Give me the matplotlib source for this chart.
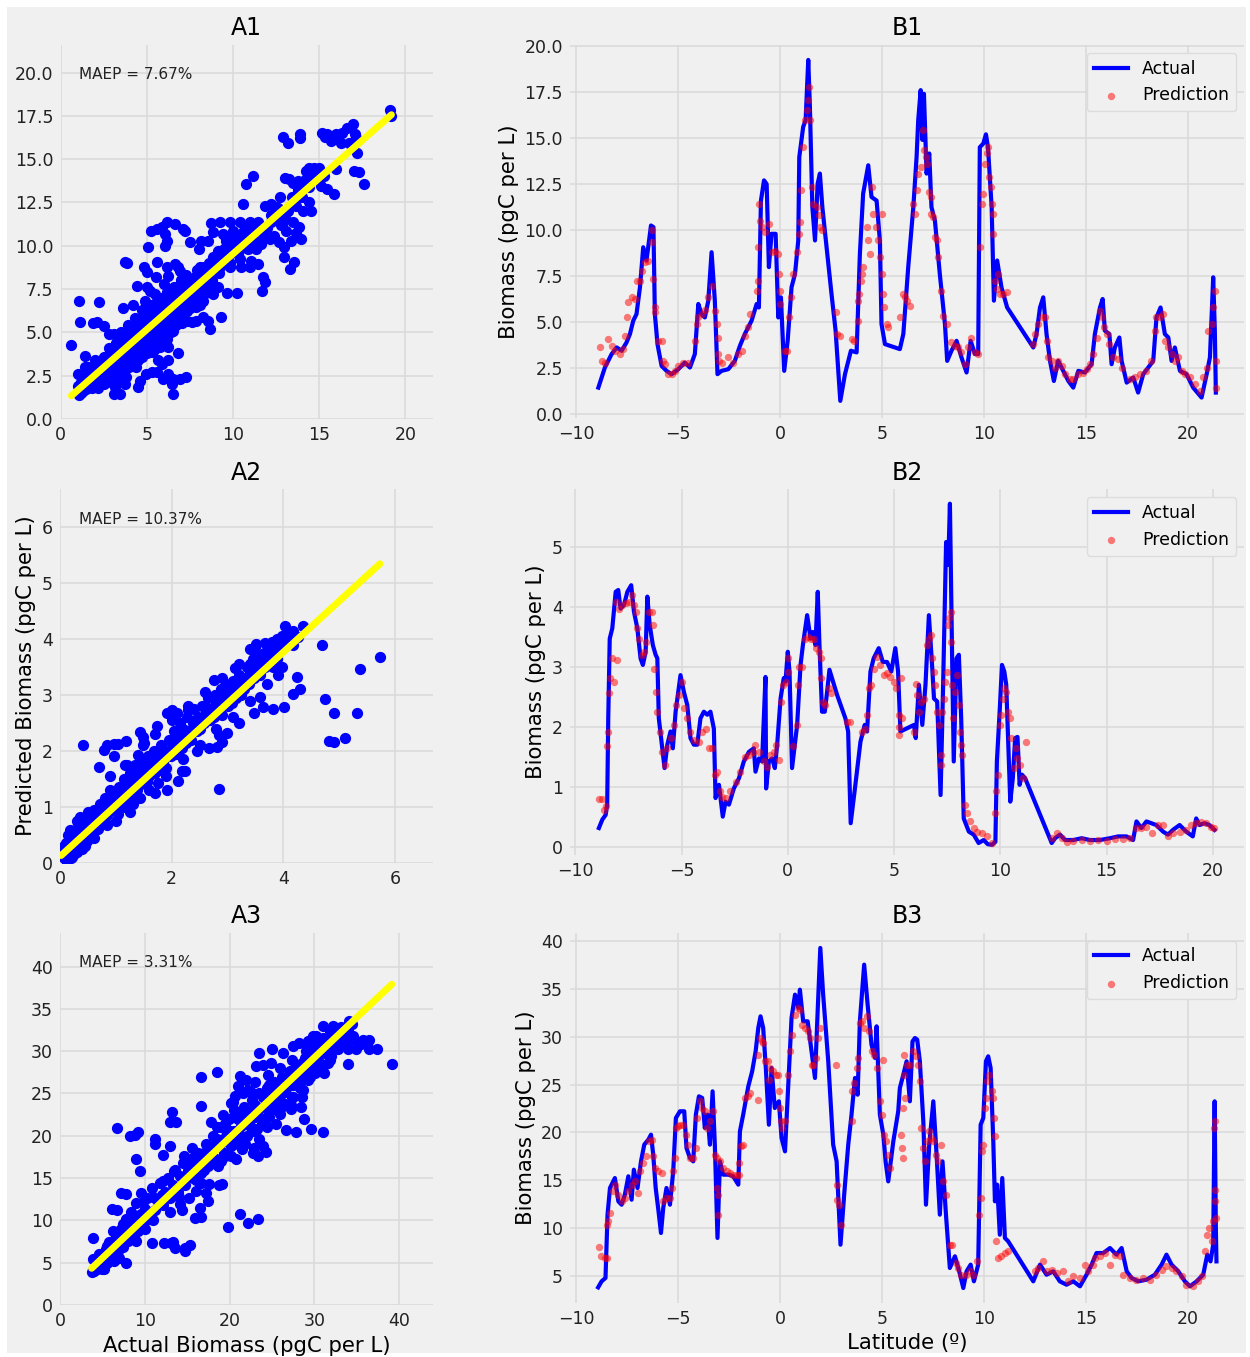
import numpy as np
import matplotlib
matplotlib.use("Agg")
import matplotlib.pyplot as plt
from matplotlib.patches import Rectangle

# ---------------- data: A panels (actual vs predicted) ----------------
a1_actual = [19.13, 19.19, 16.96, 16.63, 16.35, 15.96, 15.48, 15.19, 15.35, 15.67,
             16.25, 16.73, 17.08, 17.12, 12.88, 13.17, 13.9, 13.9, 17.21, 17.02,
             17.31, 17.6, 15.87, 15.96, 14.42, 14.71, 15.0, 14.23, 14.52, 14.81,
             15.29, 15.0, 15.1, 15.48, 10.77, 11.19, 13.0, 13.27, 13.46, 13.75,
             14.04, 12.73, 14.33, 10.58, 11.83, 12.21, 12.5, 12.88, 13.27, 13.65,
             14.04, 14.52, 14.42, 11.83, 12.21, 12.88, 13.08, 13.5, 13.85, 13.65,
             13.94, 13.37, 12.98, 12.69, 12.4, 12.12, 11.63, 12.98, 13.56, 13.33,
             11.73, 11.83, 11.67, 8.71, 9.23, 9.81, 10.38, 10.96, 11.44, 8.85,
             9.42, 10.0, 10.58, 11.15, 8.17, 8.56, 9.13, 9.62, 10.0, 10.38,
             10.87, 11.35, 8.04, 8.85, 9.62, 10.38, 11.06, 11.44, 8.08, 8.65,
             9.23, 9.81, 10.48, 10.96, 9.65, 10.23, 9.33, 5.25, 5.58, 5.9,
             6.15, 6.63, 6.06, 6.15, 6.06, 5.1, 7.1, 7.23, 7.5, 3.75,
             3.85, 5.58, 4.87, 5.0, 5.54, 6.15, 6.25, 6.63, 6.83, 6.92,
             4.42, 5.0, 1.06, 2.21, 1.15, 1.88, 2.12, 2.5, 2.79, 0.63,
             1.44, 1.58, 2.02, 3.17, 3.08, 3.46, 3.75, 4.52, 4.62, 4.94,
             5.29, 5.58, 5.96, 6.25, 6.44, 6.54, 6.54, 6.92, 7.25, 5.67,
             5.87, 6.25, 5.77, 6.25, 6.83, 5.29, 8.65, 8.56, 8.27, 7.88,
             7.6, 7.31, 7.02, 6.73, 6.54, 6.15, 8.85, 9.13, 8.65, 8.27,
             7.88, 7.5, 7.31, 8.08, 8.46, 7.5, 7.21,
             1.0, 1.2, 1.3, 1.5, 1.6, 1.7, 1.8, 1.9, 2.0, 2.1,
             2.2, 2.3, 2.4, 2.5, 2.6, 2.7, 2.8, 2.9, 3.0, 3.1,
             3.2, 3.3, 3.4, 3.5, 3.6, 3.7, 3.8, 3.9, 4.0, 4.1,
             4.2, 4.3, 4.4, 4.5, 4.6, 4.7, 4.8, 4.9, 5.0, 5.1,
             5.2, 5.3, 5.4, 5.5, 5.6, 5.7, 5.8, 5.9, 6.0, 6.1,
             6.2, 6.3, 6.4, 6.5, 6.6, 6.7, 6.8, 6.9, 7.0, 7.2,
             7.4, 7.6, 7.8, 8.0, 8.2, 8.4, 8.6, 8.8, 9.0, 9.2,
             9.5, 9.8, 10.0, 10.3, 10.6, 10.9, 11.2, 11.5, 12.0, 12.4,
             12.8, 13.2, 13.6, 14.0, 14.4, 14.8, 15.2, 1.1, 1.4, 1.9,
             2.2, 2.6, 2.9, 3.1, 3.3, 3.5, 3.6, 3.8, 4.0, 4.2,
             4.4, 4.6, 4.8, 5.0, 5.2, 5.4, 5.6, 5.8, 6.0, 6.2,
             6.4, 6.6, 6.8, 7.0, 7.2, 7.4, 7.6, 7.8, 8.0, 8.3,
             8.5, 8.7, 9.0, 9.3, 9.6, 9.9, 10.2, 10.5, 10.8, 11.1,
             11.4, 11.8, 12.2, 12.6, 13.0, 13.4, 13.8, 14.2, 14.6, 1.0,
             1.5, 2.0, 2.4, 2.7, 3.0, 3.2, 3.4, 3.7, 3.9, 4.1,
             4.3, 4.5, 4.7, 4.9, 5.1, 5.3, 5.5, 5.7, 5.9, 6.1,
             6.3, 6.5, 6.7, 6.9, 7.1, 7.3, 7.5, 7.7, 7.9, 8.1, 8.3,
             1.2, 1.4, 1.6, 1.8, 2.0, 2.2, 2.4, 2.5, 2.6, 2.8,
             2.8, 3.0, 3.0, 3.2, 3.3, 3.4, 3.5, 3.6, 3.7, 3.8,
             3.9, 4.0, 4.1, 4.2, 4.3, 4.4, 4.5, 4.6, 4.7, 4.8,
             4.9, 5.0, 5.1, 5.2, 5.3, 5.4, 5.5, 5.6, 5.7, 5.8,
             5.9, 6.0, 6.1, 6.2, 6.3, 6.4, 6.5, 6.6, 6.7, 6.8,
             6.9, 7.0, 7.1, 7.2, 7.3, 7.5, 7.7, 7.9, 8.1, 8.4]
a1_pred = [17.83, 17.5, 17.02, 16.83, 16.54, 16.44, 16.44, 16.5, 16.31, 16.06,
           15.96, 15.96, 16.44, 16.25, 16.29, 15.96, 16.44, 16.25, 15.38, 14.33,
           14.29, 13.56, 12.98, 14.42, 14.52, 14.52, 14.52, 14.33, 14.13, 14.23,
           14.04, 13.75, 13.46, 13.27, 13.56, 14.04, 13.94, 13.85, 13.65, 13.75,
           13.65, 12.83, 13.46, 12.44, 12.27, 12.4, 12.21, 12.02, 12.21, 12.31,
           12.02, 11.98, 12.5, 11.06, 11.35, 11.4, 10.87, 11.38, 11.1, 10.73,
           10.38, 10.29, 9.9, 10.19, 10.58, 10.38, 10.1, 9.37, 9.04, 8.65,
           8.17, 7.88, 7.4, 11.31, 11.35, 11.35, 11.35, 11.4, 11.35, 10.77,
           10.67, 10.87, 10.77, 10.67, 10.25, 10.25, 9.71, 10.29, 10.1, 9.81,
           10.0, 9.81, 9.81, 9.33, 9.33, 9.23, 9.13, 8.94, 8.75, 8.85,
           8.75, 8.75, 8.75, 8.75, 7.27, 7.27, 5.87, 10.87, 10.96, 11.1,
           11.38, 11.25, 10.67, 10.29, 10.0, 9.9, 10.94, 10.87, 10.19, 9.04,
           8.98, 9.04, 8.75, 8.46, 8.21, 8.75, 8.23, 8.94, 8.75, 8.56,
           7.69, 7.6, 6.83, 6.77, 5.58, 5.52, 5.58, 5.38, 4.9, 4.27,
           3.65, 2.98, 3.08, 1.83, 1.44, 1.44, 2.02, 1.83, 2.21, 2.6,
           2.69, 2.69, 2.31, 2.6, 2.02, 1.44, 2.31, 2.31, 2.4, 3.37,
           3.17, 3.37, 4.13, 4.13, 3.79, 3.85, 5.19, 5.67, 5.87, 5.67,
           5.58, 5.67, 5.52, 5.67, 5.1, 5.19, 7.21, 7.6, 7.5, 6.83,
           6.44, 6.83, 6.25, 7.79, 8.17, 7.79, 7.98,
           1.9, 2.1, 1.6, 2.4, 1.9, 2.8, 2.2, 3.0, 1.9, 2.6,
           3.3, 2.2, 2.9, 3.6, 2.4, 3.1, 4.1, 2.7, 3.5, 2.3,
           4.4, 3.0, 3.8, 5.0, 2.8, 4.2, 3.4, 5.4, 3.0, 4.6,
           3.8, 5.8, 4.2, 3.4, 5.0, 6.3, 4.4, 5.5, 3.8, 6.0,
           4.8, 6.6, 5.2, 4.3, 6.2, 5.6, 7.0, 4.9, 6.4, 5.5,
           7.3, 6.0, 5.0, 6.8, 7.6, 6.2, 5.6, 7.1, 6.6, 7.8,
           6.9, 7.4, 8.2, 7.0, 8.6, 7.6, 9.0, 8.0, 9.4, 8.4,
           9.8, 9.0, 10.2, 9.5, 10.4, 9.8, 10.8, 10.2, 11.0, 11.6,
           11.2, 12.0, 12.6, 12.8, 13.4, 13.9, 14.2, 1.4, 3.0, 2.5,
           1.8, 3.5, 2.1, 4.9, 2.5, 4.0, 6.4, 2.4, 5.2, 6.6,
           3.0, 4.0, 6.0, 5.1, 7.4, 4.0, 5.0, 6.2, 7.8, 4.6,
           7.0, 5.8, 6.8, 7.6, 6.2, 8.0, 6.6, 7.2, 8.0, 7.2,
           8.4, 7.8, 8.9, 9.6, 10.4, 9.6, 10.6, 9.9, 11.0, 10.4,
           11.2, 10.6, 11.8, 12.2, 11.6, 12.8, 13.2, 13.8, 14.0, 2.6,
           1.7, 3.4, 2.0, 2.6, 4.0, 3.2, 4.6, 3.0, 4.4, 3.4,
           5.2, 4.8, 3.6, 6.8, 4.4, 5.6, 7.2, 4.6, 6.6, 7.0,
           5.4, 6.0, 7.4, 6.4, 7.0, 8.3, 6.4, 7.8, 8.6, 6.6, 8.8,
           1.5, 2.3, 2.6, 1.8, 2.3, 2.6, 3.4, 2.0, 2.9, 2.3,
           3.3, 2.6, 3.0, 2.6, 3.6, 2.2, 3.2, 4.4, 3.6, 4.8,
           3.2, 4.0, 5.0, 4.4, 3.6, 4.9, 5.6, 4.4, 5.2, 3.9,
           4.6, 6.2, 5.4, 6.0, 4.6, 6.3, 5.4, 6.8, 6.0, 5.2,
           5.8, 5.2, 6.2, 6.6, 7.0, 6.2, 7.4, 6.6, 5.4, 7.6,
           5.9, 8.0, 6.2, 7.2, 6.8, 7.2, 6.9, 7.6, 7.8, 8.2]
a1_fit = (0.875, 0.78)
a1_maep = "MAEP = 7.67%"

a2_actual = [0.41, 0.69, 0.78, 0.84, 0.96, 1.04, 1.19, 0.96, 1.16, 0.85,
             0.27, 0.18, 0.36, 0.51, 1.73, 1.43, 1.49, 1.49, 1.39, 1.91,
             2.0, 2.09, 2.3, 2.84, 1.91, 2.12, 1.7, 1.76, 1.43, 1.25,
             1.04, 1.16, 2.18, 2.24, 2.45, 2.67, 2.81, 2.9, 2.99, 2.85,
             2.75, 3.13, 3.2, 3.47, 3.58, 3.64, 3.81, 4.02, 4.18, 4.3,
             4.25, 3.91, 3.82, 3.97, 4.7, 4.75, 4.91, 4.81, 4.9, 5.1,
             5.31, 5.37, 5.73, 4.03, 4.36, 4.18, 4.27, 4.18, 4.03, 3.88,
             3.79, 3.67, 3.51, 3.4, 3.46,
             0.05, 0.08, 0.1, 0.12, 0.15, 0.18, 0.2, 0.22, 0.25, 0.28,
             0.3, 0.32, 0.35, 0.38, 0.4, 0.42, 0.45, 0.48, 0.5, 0.52,
             0.55, 0.58, 0.6, 0.65, 0.68, 0.7, 0.72, 0.75, 0.78, 0.8,
             0.85, 0.88, 0.9, 0.95, 0.98, 1.0, 1.05, 1.08, 1.1, 1.15,
             1.18, 1.2, 1.25, 1.28, 1.3, 1.35, 1.38, 1.4, 1.45, 1.48,
             1.5, 1.55, 1.58, 1.6, 1.65, 1.68, 1.7, 1.75, 1.78, 1.8,
             1.85, 1.88, 1.9, 1.95, 1.98, 2.0, 2.05, 2.08, 2.1, 2.15,
             2.18, 2.2, 2.25, 2.28, 2.3, 2.35, 2.38, 2.4, 2.45, 2.48,
             2.5, 2.55, 2.58, 2.6, 2.65, 2.68, 2.7, 2.75, 2.78, 2.8,
             2.85, 2.88, 2.9, 2.95, 2.98, 3.0, 3.05, 3.08, 3.1, 3.15,
             3.18, 3.2, 3.25, 3.28, 3.3, 3.35, 3.38, 3.4, 3.45, 3.48,
             3.5, 3.55, 3.58, 3.6, 3.65, 3.68, 3.7, 3.75, 3.78, 3.8,
             3.85, 3.88, 3.9, 3.95, 3.98, 4.05, 4.1, 4.15, 0.3, 0.6,
             0.9, 1.2, 1.5, 1.7, 2.0, 2.3, 2.6, 2.9, 3.2, 3.5,
             1.0, 1.3, 1.6, 1.9, 2.2, 2.5, 2.8, 3.1, 3.4, 3.7,
             0.1, 0.15, 0.2, 0.25, 0.3, 0.35, 0.4, 0.45, 0.5, 0.55,
             0.6, 0.65, 0.7, 0.75, 0.8, 0.9, 1.0, 1.1, 1.2, 1.3,
             1.4, 1.6, 1.8, 2.0, 2.2, 2.4, 2.6, 2.8, 3.0, 3.2,
             3.4, 3.6, 3.8, 4.0, 0.02, 0.07, 0.12, 0.17, 0.22, 0.27]
a2_pred = [2.10, 1.71, 2.01, 2.10, 2.13, 2.13, 2.18, 1.9, 1.74, 0.67,
           0.58, 0.58, 0.82, 0.91, 2.44, 2.34, 2.25, 2.1, 1.92, 2.67,
           2.74, 2.67, 2.73, 1.31, 1.3, 1.46, 1.24, 1.42, 1.15, 0.91,
           0.88, 1.0, 1.64, 1.64, 2.0, 2.05, 2.07, 2.16, 2.32, 2.28,
           3.27, 3.49, 2.5, 2.67, 2.96, 2.79, 2.75, 2.79, 3.01, 3.11,
           3.32, 3.35, 3.5, 3.5, 3.9, 2.93, 2.67, 2.18, 2.16, 2.23,
           2.68, 3.46, 3.68, 4.23, 4.23, 4.15, 4.04, 3.89, 4.07, 4.01,
           3.95, 3.93, 3.92, 3.82, 3.65,
           0.1, 0.2, 0.05, 0.3, 0.15, 0.4, 0.22, 0.1, 0.35, 0.5,
           0.2, 0.42, 0.3, 0.55, 0.25, 0.45, 0.65, 0.38, 0.55, 0.8,
           0.48, 0.7, 0.62, 0.9, 0.6, 0.8, 1.05, 0.72, 0.95, 1.15,
           0.85, 1.1, 1.3, 0.95, 1.2, 1.05, 1.35, 1.0, 1.25, 1.5,
           1.15, 1.35, 1.6, 1.2, 1.45, 1.75, 1.3, 1.55, 1.4, 1.8,
           1.6, 1.45, 1.9, 1.55, 1.75, 2.0, 1.6, 1.85, 1.65, 2.1,
           1.8, 2.0, 1.7, 2.2, 1.9, 2.05, 2.35, 1.95, 2.2, 2.5,
           2.05, 2.3, 2.15, 2.6, 2.35, 2.2, 2.5, 2.75, 2.35, 2.6,
           2.4, 2.8, 2.5, 2.65, 2.95, 2.55, 2.75, 2.6, 3.0, 2.7,
           2.85, 3.1, 2.65, 2.95, 3.2, 2.8, 3.05, 2.85, 3.25, 2.95,
           3.15, 3.35, 3.0, 3.3, 3.1, 3.5, 3.2, 3.4, 3.6, 3.3,
           3.5, 3.7, 3.35, 3.55, 3.75, 3.5, 3.65, 3.85, 3.55, 3.7,
           3.9, 3.65, 3.8, 3.95, 4.05, 4.1, 3.95, 4.12, 0.75, 0.95,
           1.55, 1.75, 2.15, 2.3, 2.55, 2.8, 3.05, 3.3, 3.55, 3.85,
           0.75, 1.05, 1.3, 1.55, 1.85, 2.1, 2.4, 2.6, 2.9, 3.2,
           0.35, 0.5, 0.08, 0.15, 0.45, 0.6, 0.4, 0.3, 0.7, 0.65,
           0.45, 0.75, 0.95, 0.9, 0.8, 1.0, 1.2, 1.1, 1.5, 1.3,
           1.65, 1.7, 1.9, 2.15, 2.4, 2.5, 2.8, 2.85, 3.1, 3.25,
           3.55, 3.45, 3.85, 3.9, 0.15, 0.3, 0.12, 0.25, 0.3, 0.25]
a2_fit = (0.914, 0.11)
a2_maep = "MAEP = 10.37%"

a3_actual = [39.14, 37.37, 36.47, 36.47, 35.69, 34.9, 33.92, 33.92, 30.98, 29.61,
             28.82, 27.84, 26.67, 28.43, 27.45, 19.8, 21.25, 22.16, 23.33, 16.59,
             18.51, 16.67, 13.25, 12.94, 13.73, 11.18, 11.18, 13.02, 12.16, 6.67,
             8.24, 8.82, 9.22, 9.02, 9.41, 7.25, 7.76, 6.08, 6.67, 7.84,
             10.9, 12.24, 13.33, 13.53, 14.71, 15.37, 14.71, 13.14, 15.88, 16.67,
             17.45, 16.47, 15.22, 14.43, 14.12, 17.53, 18.75, 19.14, 17.25, 16.59,
             16.08, 24.31, 23.33, 22.94, 23.92, 23.53, 23.92, 23.14, 25.02, 26.27,
             24.9, 21.18, 22.16, 20.98, 21.96, 20.2, 20.59, 28.63, 27.25, 26.27,
             25.88, 25.1, 24.31, 32.16, 33.14, 34.12, 30.98, 31.18, 31.57, 30.2,
             29.22, 28.43, 29.41, 28.24, 27.45, 29.8, 30.59, 32.16, 32.55, 33.33,
             34.51, 3.73, 3.9, 3.92,
             4.0, 4.2, 4.4, 4.6, 4.8, 5.0, 5.2, 5.4, 5.6, 5.8,
             6.0, 6.2, 6.4, 6.6, 6.8, 7.0, 7.2, 7.4, 7.6, 7.8,
             8.0, 8.2, 8.4, 8.6, 8.8, 9.0, 9.2, 9.4, 9.6, 9.8,
             10.0, 10.3, 10.6, 10.9, 11.2, 11.5, 11.8, 12.1, 12.4, 12.7,
             13.0, 13.3, 13.6, 13.9, 14.2, 14.5, 14.8, 15.1, 15.4, 15.7,
             16.0, 16.3, 16.6, 16.9, 17.2, 17.5, 17.8, 18.1, 18.4, 18.7,
             19.0, 19.3, 19.6, 19.9, 20.2, 20.5, 20.8, 21.1, 21.4, 21.7,
             22.0, 22.3, 22.6, 22.9, 23.2, 23.5, 23.8, 24.1, 24.4, 24.7,
             25.0, 25.3, 25.6, 25.9, 26.2, 26.5, 26.8, 27.1, 27.4, 27.7,
             28.0, 28.3, 28.6, 28.9, 29.2, 29.5, 29.8, 30.1, 30.4, 30.7,
             31.0, 31.3, 31.6, 31.9, 32.2, 32.5, 32.8, 33.1, 33.5, 34.0,
             34.5, 35.0, 35.5, 36.0, 5.0, 6.0, 7.0, 8.0, 9.0, 10.0,
             11.0, 12.0, 13.0, 14.0, 15.0, 16.0, 17.0, 18.0, 19.0, 20.0,
             21.0, 22.0, 23.0, 24.0, 25.0, 26.0, 27.0, 28.0, 29.0, 30.0,
             31.0, 32.0, 33.0, 18.5, 20.5, 22.5, 24.5, 19.5, 21.5, 23.5,
             25.5, 20.8, 22.8,
             16.0, 16.5, 17.0, 17.5, 18.0, 18.5, 19.0, 19.5, 20.0, 20.5,
             21.0, 21.5, 22.0, 22.5, 23.0, 23.5, 24.0, 24.5, 25.0, 25.5,
             26.0, 26.5, 27.0, 27.5, 28.0, 28.5, 29.0, 29.5, 30.0, 30.5,
             31.0, 31.5, 32.0, 32.5, 33.0, 33.5, 34.0, 30.2, 29.3, 31.8,
             17.8, 19.2, 20.4, 21.6, 23.0, 24.6, 26.0, 27.4, 18.6, 20.2,
             21.8, 23.2, 24.4, 26.0, 27.2, 28.6, 6.2, 7.4, 8.6, 9.8,
             11.0, 12.2, 13.4, 14.6, 15.6, 5.5, 6.5, 7.5, 8.5, 9.5]
a3_pred = [28.54, 30.28, 30.2, 31.31, 31.31, 30.2, 30.2, 28.54, 20.45, 20.84,
           21.99, 20.41, 20.73, 23.41, 24.6, 9.16, 10.78, 9.67, 10.19, 26.92,
           27.56, 23.49, 22.78, 21.6, 21.6, 19.62, 19.07, 18.75, 17.69, 20.96,
           20.02, 20.13, 20.41, 17.25, 15.79, 13.23, 13.15, 11.33, 11.25, 5.01,
           7.38, 7.38, 7.5, 6.71, 6.71, 7.11, 6.43, 7.3, 10.26, 10.38,
           12.24, 11.45, 12.63, 11.17, 11.96, 14.33, 14.21, 14.33, 13.23, 14.41,
           13.42, 18.08, 17.57, 18.55, 18.75, 29.81, 28.42, 28.23, 30.2, 29.81,
           28.62, 27.04, 25.46, 25.86, 26.65, 23.89, 24.67, 25.46, 23.69, 23.49,
           24.28, 25.07, 24.28, 32.96, 32.89, 33.56, 32.96, 27.44, 28.62, 28.62,
           27.04, 26.45, 30.6, 30.91, 30.6, 31.78, 31.0, 30.6, 31.58, 31.0,
           31.78, 3.95, 5.4, 7.9,
           4.0, 5.3, 4.3, 6.0, 4.8, 5.5, 4.2, 6.6, 5.0, 7.4,
           5.8, 6.8, 5.2, 8.0, 6.4, 7.2, 9.0, 6.8, 8.4, 10.2,
           7.6, 9.4, 11.0, 8.2, 9.8, 12.0, 8.8, 10.6, 13.2, 9.4,
           11.4, 12.6, 10.2, 13.8, 11.2, 12.4, 14.4, 11.8, 13.4, 15.0,
           12.6, 14.2, 16.0, 13.4, 15.2, 16.8, 14.2, 15.8, 17.2, 15.0,
           16.4, 18.0, 15.6, 17.2, 19.0, 16.4, 18.0, 20.0, 17.2, 19.2,
           21.0, 18.0, 20.0, 22.0, 18.8, 20.6, 22.6, 19.4, 21.2, 23.4,
           20.0, 22.0, 24.2, 20.6, 22.6, 25.0, 21.4, 23.4, 25.6, 22.2,
           24.2, 26.4, 23.0, 25.0, 27.0, 23.8, 25.8, 27.6, 24.6, 26.6,
           28.4, 25.6, 27.4, 29.2, 26.6, 28.2, 30.0, 27.4, 29.0, 30.6,
           28.2, 29.8, 31.4, 29.0, 30.6, 32.0, 30.2, 31.4, 32.4, 31.2,
           33.2, 31.0, 30.8, 31.2, 4.2, 7.0, 5.6, 9.0, 7.6, 9.0,
           10.0, 13.0, 11.0, 12.8, 16.6, 14.8, 16.0, 18.8, 17.0, 19.8,
           22.0, 21.4, 23.6, 22.0, 25.6, 24.2, 26.2, 27.0, 28.4, 29.4,
           30.2, 31.2, 32.2, 21.0, 23.0, 25.2, 27.2, 17.6, 18.4, 19.6,
           21.4, 17.2, 18.0,
           17.4, 16.2, 18.0, 17.8, 16.8, 19.6, 19.2, 21.4, 20.6, 19.0,
           20.4, 22.6, 23.0, 21.0, 22.2, 23.2, 24.6, 23.0, 23.2, 24.8,
           26.0, 25.2, 27.2, 26.0, 26.2, 28.6, 30.0, 27.0, 30.8, 28.2,
           31.6, 30.2, 29.4, 31.0, 30.6, 31.8, 32.4, 31.8, 31.2, 32.4,
           21.6, 22.4, 24.0, 25.0, 26.4, 26.0, 28.0, 29.0, 16.4, 17.6,
           19.0, 20.8, 21.0, 22.6, 23.2, 24.6, 8.8, 9.6, 10.6, 12.2,
           12.8, 14.6, 15.8, 17.6, 18.6, 7.0, 6.0, 8.0, 8.8, 10.8]
a3_fit = (0.948, 0.8)
a3_maep = "MAEP = 3.31%"

# ---------------- data: B panels (biomass vs latitude) ----------------
b1_lat = [-8.9, -8.58, -8.42, -8.25, -8.0, -7.76, -7.52, -7.35, -7.19, -7.03,
          -6.86, -6.7, -6.54, -6.32, -6.2, -6.13, -6.0, -5.8, -5.56, -5.31,
          -4.98, -4.66, -4.41, -4.17, -4.0, -3.84, -3.68, -3.51, -3.35, -3.19,
          -3.06, -2.86, -2.53, -2.21, -1.96, -1.72, -1.39, -1.14, -1.03, -0.93,
          -0.78, -0.65, -0.54, -0.41, -0.21, -0.08, 0.05, 0.21, 0.38, 0.57,
          0.74, 0.9, 0.95, 1.14, 1.26, 1.39, 1.47, 1.59, 1.72, 1.85,
          1.96, 2.08, 2.53, 2.73, 2.96, 3.19, 3.48, 3.76, 3.92, 4.08,
          4.33, 4.49, 4.74, 4.9, 4.98, 5.15, 5.88, 6.05, 6.29, 6.54,
          6.7, 6.78, 6.9, 6.98, 7.06, 7.19, 7.32, 7.43, 7.6, 7.84,
          8.09, 8.2, 8.41, 8.66, 8.9, 9.15, 9.35, 9.56, 9.72, 9.8,
          9.97, 10.1, 10.2, 10.38, 10.49, 10.65, 10.86, 11.14, 12.42, 12.58,
          12.75, 12.91, 13.07, 13.24, 13.43, 13.64, 13.89, 14.14, 14.38, 14.63,
          14.95, 15.28, 15.44, 15.69, 15.82, 15.93, 16.15, 16.26, 16.42, 16.64,
          16.75, 17.0, 17.32, 17.56, 17.81, 18.3, 18.46, 18.66, 18.87, 19.04,
          19.2, 19.36, 19.61, 19.93, 20.26, 20.67, 20.92, 21.08, 21.24, 21.32,
          21.37]
b1_actual = [1.45, 2.54, 2.9, 3.27, 3.63, 3.45, 3.9, 4.36, 5.08, 5.44,
             6.9, 9.07, 8.35, 10.25, 10.16, 5.44, 3.8, 2.63, 2.36, 2.18,
             2.45, 2.81, 2.54, 3.27, 5.99, 5.44, 5.26, 6.17, 8.8, 6.17,
             2.18, 2.36, 2.45, 2.9, 3.72, 4.36, 5.08, 5.99, 5.8, 11.6,
             12.7, 12.5, 7.99, 9.8, 9.8, 5.26, 6.35, 2.36, 3.99, 6.9,
             7.62, 9.44, 13.97, 15.6, 15.97, 19.24, 16.7, 11.25, 9.44, 12.52,
             13.07, 11.25, 6.53, 4.54, 0.73, 2.18, 3.45, 3.36, 8.71, 11.98,
             13.52, 11.8, 11.6, 9.44, 4.9, 3.81, 3.54, 4.36, 7.99, 11.25,
             13.97, 15.97, 17.6, 14.9, 17.4, 13.07, 14.16, 11.25, 10.5, 7.6,
             4.9, 2.9, 3.45, 3.99, 3.09, 2.27, 3.99, 3.27, 3.27, 14.5,
             14.7, 15.2, 14.5, 11.25, 6.17, 8.35, 6.9, 5.8, 3.63, 4.36,
             5.8, 6.35, 4.36, 2.9, 1.81, 2.9, 2.36, 1.81, 1.45, 2.36,
             2.27, 2.72, 4.36, 5.8, 6.26, 4.54, 4.36, 2.72, 3.63, 4.17,
             2.9, 1.72, 2.0, 1.18, 2.18, 2.9, 5.26, 5.8, 4.36, 4.17,
             2.9, 3.63, 2.36, 2.18, 1.45, 0.91, 2.18, 3.09, 7.44, 4.54,
             1.18]
b1_pred_lat = [-8.82, -8.74, -8.58, -8.42, -8.25, -8.09, -7.84, -7.68, -7.6, -7.52,
               -7.43, -7.27, -7.11, -7.03, -6.86, -6.75, -6.62, -6.45, -6.29, -6.26,
               -6.21, -6.13, -6.1, -5.96, -5.8, -5.72, -5.64, -5.47, -5.31, -5.15,
               -4.98, -4.74, -4.49, -4.17, -4.08, -4.0, -3.84, -3.68, -3.51, -3.35,
               -3.19, -3.1, -3.02, -3.02, -2.99, -2.86, -2.53, -2.29, -2.04, -1.88,
               -1.72, -1.55, -1.47, -1.14, -1.09, -1.06, -1.03, -0.98, -0.87, -0.74,
               -0.54, -0.41, -0.25, -0.08, -0.05, 0.0, 0.0, 0.25, 0.33, 0.44,
               0.54, 0.65, 0.82, 0.93, 0.98, 1.03, 1.14, 1.23, 1.31, 1.36,
               1.42, 1.47, 1.55, 1.63, 1.8, 1.91, 1.96, 2.04, 2.73, 2.78,
               2.94, 3.51, 3.64, 3.81, 3.84, 3.87, 3.97, 4.0, 4.08, 4.25,
               4.33, 4.41, 4.49, 4.58, 4.69, 4.82, 4.9, 4.98, 4.98, 5.07,
               5.11, 5.23, 5.31, 5.88, 6.05, 6.21, 6.13, 6.37, 6.54, 6.62,
               6.7, 6.78, 6.9, 7.0, 7.06, 7.16, 7.22, 7.32, 7.39, 7.43,
               7.52, 7.6, 7.68, 7.76, 7.92, 8.0, 8.17, 8.41, 8.58, 8.74,
               8.9, 9.07, 9.23, 9.39, 9.56, 9.72, 9.8, 9.89, 9.97, 10.05,
               10.13, 10.21, 10.26, 10.33, 10.38, 10.43, 10.46, 10.54, 10.62, 10.7,
               10.78, 10.95, 11.11, 12.42, 12.5, 12.66, 12.83, 12.99, 13.07, 13.15,
               13.32, 13.48, 13.64, 13.81, 13.97, 14.21, 14.38, 14.63, 14.87, 15.03,
               15.2, 15.33, 15.52, 15.69, 15.77, 15.88, 16.01, 16.14, 16.34, 16.58,
               16.75, 17.16, 17.4, 17.65, 17.97, 18.17, 18.38, 18.46, 18.62, 18.79,
               18.87, 19.04, 19.2, 19.36, 19.53, 19.69, 19.85, 20.1, 20.34, 20.59,
               20.75, 20.92, 21.0, 21.16, 21.24, 21.32, 21.37, 21.4]
b1_pred = [3.63, 2.9, 2.81, 4.08, 3.72, 3.45, 3.27, 3.54, 4.26, 5.26,
           6.08, 6.35, 6.26, 7.26, 7.26, 7.8, 8.26, 8.35, 9.98, 9.35,
           7.35, 5.8, 5.54, 3.99, 3.99, 2.9, 2.72, 2.18, 2.18, 2.36,
           2.63, 2.81, 2.81, 3.99, 4.9, 5.26, 5.44, 5.66, 6.35, 6.99,
           5.63, 4.9, 4.17, 3.27, 2.9, 2.81, 3.09, 2.81, 3.27, 3.45,
           4.26, 4.72, 5.44, 6.72, 7.26, 9.07, 11.43, 10.52, 10.16, 9.89,
           10.34, 8.8, 8.89, 8.71, 7.62, 6.72, 5.99, 3.45, 3.45, 5.26,
           6.35, 7.62, 8.8, 9.8, 10.43, 12.16, 14.52, 15.97, 16.52, 17.06,
           17.79, 15.97, 12.34, 11.43, 11.25, 10.8, 10.16, 9.98, 5.54, 4.36,
           4.26, 4.08, 3.99, 5.08, 6.17, 6.53, 7.26, 7.62, 7.99, 10.16,
           9.44, 8.71, 12.34, 10.89, 10.16, 9.44, 8.53, 10.89, 7.62, 6.53,
           5.8, 4.9, 4.72, 5.26, 6.53, 6.17, 6.35, 5.9, 11.43, 10.89,
           12.16, 13.07, 13.43, 15.43, 14.34, 13.97, 13.61, 12.07, 11.8, 10.89,
           10.7, 9.62, 9.44, 8.53, 6.72, 5.35, 4.9, 3.9, 3.72, 3.63,
           3.36, 2.72, 3.63, 4.17, 3.36, 3.27, 9.07, 11.43, 11.98, 13.61,
           14.16, 14.52, 12.89, 12.34, 11.43, 10.89, 9.8, 7.26, 6.81, 7.62,
           6.53, 6.53, 6.62, 3.81, 4.36, 4.9, 5.26, 5.26, 3.99, 3.09,
           2.9, 2.54, 2.9, 2.63, 2.18, 1.91, 1.91, 2.18, 2.27, 2.45,
           2.72, 3.27, 4.17, 5.63, 5.26, 4.72, 4.36, 3.81, 3.09, 2.99,
           2.54, 1.91, 2.0, 2.18, 2.36, 2.9, 4.54, 5.26, 5.26, 5.44,
           3.99, 3.63, 3.27, 2.9, 3.09, 2.36, 2.18, 2.0, 1.63, 1.27,
           2.0, 2.54, 4.54, 4.9, 5.8, 6.72, 2.9, 1.45]

b2_lat = [-8.89, -8.73, -8.57, -8.5, -8.45, -8.38, -8.26, -8.1, -7.98, -7.87,
          -7.71, -7.55, -7.37, -7.24, -7.08, -6.93, -6.82, -6.69, -6.61, -6.5,
          -6.35, -6.22, -6.14, -6.07, -5.91, -5.8, -5.67, -5.52, -5.41, -5.28,
          -5.05, -4.89, -4.73, -4.58, -4.42, -4.26, -4.11, -3.95, -3.79, -3.64,
          -3.48, -3.4, -3.24, -3.06, -2.93, -2.77, -2.54, -2.3, -2.07, -1.83,
          -1.6, -1.52, -1.36, -1.21, -1.05, -1.02, -0.89, -0.74, -0.61, -0.5,
          -0.34, -0.19, -0.11, 0.0, 0.08, 0.2, 0.33, 0.44, 0.6, 0.71,
          0.91, 1.07, 1.18, 1.3, 1.41, 1.49, 1.61, 1.74, 1.85, 1.96,
          2.32, 2.71, 2.84, 2.96, 3.18, 3.42, 3.62, 3.73, 3.89, 4.04,
          4.28, 4.47, 4.67, 4.87, 5.06, 5.19, 5.3, 5.94, 6.02, 6.17,
          6.33, 6.48, 6.64, 6.8, 6.88, 7.03, 7.19, 7.31, 7.45, 7.55,
          7.63, 7.73, 7.81, 7.94, 8.05, 8.16, 8.28, 8.52, 8.75, 8.98,
          9.22, 9.41, 9.61, 9.77, 9.84, 9.97, 10.08, 10.19, 10.28, 10.39,
          10.47, 10.59, 10.7, 10.81, 10.91, 11.02, 11.17, 12.42, 12.58, 12.81,
          13.05, 13.44, 13.83, 14.22, 14.69, 15.16, 15.55, 15.94, 16.25, 16.41,
          16.64, 16.88, 17.11, 17.34, 17.66, 17.89, 18.13, 18.44, 18.75, 19.06,
          19.22, 19.38, 19.61, 19.84, 20.08]
b2_actual = [0.32, 0.46, 0.54, 0.71, 2.15, 3.48, 3.65, 4.26, 4.29, 3.98,
             4.04, 4.26, 4.37, 3.93, 3.65, 3.15, 3.04, 3.26, 4.18, 3.71,
             3.37, 3.21, 3.15, 2.15, 1.65, 1.32, 1.71, 1.93, 1.65, 2.26,
             2.87, 2.59, 2.37, 1.82, 1.71, 1.71, 2.15, 2.26, 2.21, 2.26,
             1.98, 0.82, 1.04, 0.51, 0.76, 0.71, 0.98, 1.15, 1.43, 1.59,
             1.65, 1.26, 1.48, 1.43, 2.84, 0.98, 1.43, 1.48, 1.32, 1.71,
             2.48, 2.82, 2.76, 3.26, 2.93, 1.32, 1.71, 2.04, 3.04, 3.37,
             3.87, 3.48, 3.59, 3.37, 4.26, 3.37, 2.26, 2.26, 2.59, 2.96,
             2.54, 2.15, 1.93, 0.4, 1.04, 1.76, 2.04, 1.93, 2.93, 3.15,
             3.32, 3.09, 3.09, 2.93, 3.32, 2.93, 1.93, 2.04, 1.82, 2.71,
             2.04, 2.71, 3.87, 2.98, 2.48, 2.43, 0.87, 2.71, 5.09, 4.71,
             5.73, 3.26, 1.43, 3.15, 3.21, 2.15, 0.48, 0.26, 0.21, 0.07,
             0.12, 0.05, 0.04, 0.09, 1.43, 2.26, 3.04, 2.93, 2.71, 1.59,
             0.76, 1.15, 1.82, 1.84, 1.04, 1.21, 1.15, 0.07, 0.15, 0.21,
             0.12, 0.12, 0.15, 0.12, 0.12, 0.15, 0.18, 0.18, 0.12, 0.43,
             0.32, 0.43, 0.4, 0.37, 0.26, 0.21, 0.29, 0.37, 0.26, 0.18,
             0.48, 0.37, 0.4, 0.37, 0.29]
b2_pred_lat = [-8.89, -8.76, -8.65, -8.57, -8.5, -8.46, -8.42, -8.37, -8.29, -8.18,
               -8.03, -8.1, -7.95, -7.79, -7.63, -7.48, -7.35, -7.24, -7.16, -7.08,
               -7.0, -6.88, -6.77, -6.66, -6.53, -6.41, -6.35, -6.28, -6.22, -6.14,
               -6.03, -5.91, -5.8, -5.67, -5.52, -5.36, -5.25, -5.13, -5.0, -4.89,
               -4.73, -4.58, -4.42, -4.19, -4.03, -3.87, -3.71, -3.56, -3.43, -3.32,
               -3.21, -3.09, -2.93, -2.7, -2.46, -2.23, -2.02, -1.83, -1.65, -1.52,
               -1.36, -1.13, -0.97, -0.82, -0.66, -0.55, -0.42, -0.34, -0.24, -0.08,
               0.0, 0.02, 0.24, 0.44, 0.47, 0.52, 0.67, 0.8, 0.96, 1.11,
               1.22, 1.33, 1.46, 1.54, 1.58, 1.65, 1.74, 1.93, 2.01, 2.79,
               2.95, 3.47, 3.62, 3.73, 3.81, 3.93, 4.04, 4.2, 4.36, 4.51,
               4.67, 4.83, 4.98, 5.09, 5.22, 5.25, 5.25, 5.31, 5.39, 5.94,
               6.02, 6.09, 6.17, 6.28, 6.41, 6.56, 6.64, 6.72, 6.8, 6.88,
               6.95, 7.03, 7.11, 7.19, 7.22, 7.27, 7.34, 7.42, 7.47, 7.53,
               7.61, 7.66, 7.69, 7.73, 7.78, 7.89, 7.97, 8.05, 8.09, 8.13,
               8.2, 8.36, 8.44, 8.59, 8.75, 8.91, 9.14, 9.38, 9.61, 9.77,
               9.81, 9.88, 9.97, 10.03, 10.11, 10.19, 10.28, 10.34, 10.44, 10.52,
               10.63, 10.75, 10.81, 10.94, 11.09, 11.22, 12.42, 12.66, 12.89, 13.13,
               13.44, 13.83, 14.22, 14.61, 15.0, 15.39, 15.78, 16.09, 16.41, 16.64,
               16.88, 17.16, 17.42, 17.66, 17.89, 18.13, 18.44, 18.75, 18.98, 19.22,
               19.45, 19.69, 19.92, 20.08]
b2_pred = [0.8, 0.8, 0.62, 0.68, 1.68, 1.93, 2.57, 2.82, 3.15, 2.76,
           3.12, 4.09, 3.98, 4.04, 4.07, 4.09, 4.21, 4.04, 3.93, 3.65,
           3.48, 3.21, 3.26, 3.43, 3.93, 3.93, 3.71, 2.98, 2.59, 2.26,
           1.93, 1.59, 1.37, 1.65, 1.82, 2.04, 2.37, 2.54, 2.76, 2.32,
           2.15, 1.93, 1.79, 1.76, 1.93, 1.98, 1.65, 1.65, 1.21, 1.26,
           0.93, 0.84, 0.82, 0.93, 1.09, 1.26, 1.51, 1.54, 1.59, 1.71,
           1.59, 1.43, 1.34, 1.54, 1.59, 1.71, 1.46, 2.43, 2.71, 2.76,
           3.15, 2.93, 1.68, 2.04, 2.71, 3.01, 3.01, 3.48, 3.51, 3.48,
           3.48, 3.32, 3.26, 3.15, 2.82, 2.43, 2.37, 2.65, 2.57, 2.09,
           2.09, 1.93, 1.98, 2.21, 2.65, 2.71, 2.98, 3.18, 3.04, 2.87,
           2.9, 2.84, 2.76, 2.65, 2.21, 2.01, 1.87, 2.82, 2.15, 1.93,
           2.73, 2.54, 2.26, 2.43, 2.48, 3.37, 3.48, 3.54, 3.15, 2.93,
           2.71, 2.26, 2.04, 1.54, 1.37, 2.26, 2.48, 2.76, 2.93, 3.71,
           3.82, 3.93, 3.43, 2.71, 2.15, 2.59, 2.87, 2.37, 1.93, 1.71,
           1.54, 0.71, 0.57, 0.43, 0.32, 0.26, 0.23, 0.18, 0.07, 0.57,
           0.93, 1.21, 2.04, 2.21, 2.48, 2.65, 2.59, 2.26, 2.15, 1.82,
           1.32, 1.65, 1.48, 1.37, 1.15, 1.76, 0.15, 0.23, 0.15, 0.09,
           0.11, 0.12, 0.11, 0.12, 0.11, 0.14, 0.14, 0.15, 0.32, 0.32,
           0.33, 0.23, 0.37, 0.37, 0.18, 0.23, 0.26, 0.29, 0.37, 0.4,
           0.42, 0.4, 0.34, 0.32]

b3_lat = [-8.91, -8.74, -8.55, -8.45, -8.33, -8.09, -7.92, -7.76, -7.6, -7.43,
          -7.27, -7.16, -6.98, -6.81, -6.65, -6.45, -6.32, -6.21, -6.09, -5.96,
          -5.83, -5.72, -5.56, -5.39, -5.23, -5.1, -4.9, -4.69, -4.58, -4.41,
          -4.25, -4.12, -3.97, -3.81, -3.68, -3.55, -3.43, -3.3, -3.19, -3.06,
          -2.94, -2.78, -2.53, -2.29, -2.04, -1.96, -1.8, -1.55, -1.36, -1.19,
          -1.06, -0.95, -0.82, -0.69, -0.54, -0.41, -0.25, -0.05, 0.08, 0.25,
          0.41, 0.57, 0.74, 0.9, 0.98, 1.14, 1.36, 1.55, 1.72, 1.85,
          1.98, 2.12, 2.37, 2.61, 2.78, 2.97, 3.15, 3.35, 3.51, 3.68,
          3.81, 3.92, 4.13, 4.3, 4.49, 4.66, 4.74, 4.9, 5.07, 5.18,
          5.31, 5.56, 5.8, 5.88, 6.05, 6.21, 6.37, 6.5, 6.62, 6.73,
          6.86, 7.03, 7.16, 7.32, 7.52, 7.68, 7.84, 7.97, 8.14, 8.33,
          8.58, 8.79, 8.99, 9.15, 9.35, 9.51, 9.72, 9.84, 9.97, 10.1,
          10.21, 10.33, 10.46, 10.54, 10.65, 10.78, 10.9, 11.03, 11.19, 12.42,
          12.75, 13.07, 13.4, 13.72, 14.05, 14.38, 14.71, 15.03, 15.28, 15.52,
          15.85, 16.18, 16.5, 16.75, 17.0, 17.24, 17.57, 17.97, 18.38, 18.71,
          18.95, 19.2, 19.53, 19.85, 20.1, 20.43, 20.75, 20.95, 21.11, 21.24,
          21.31, 21.37, 21.4]
b3_actual = [3.85, 4.48, 4.83, 11.43, 14.21, 15.25, 12.82, 12.47, 13.52, 15.43,
             12.99, 16.12, 14.21, 16.99, 18.73, 19.25, 19.77, 17.69, 14.21, 11.95,
             9.52, 12.12, 14.21, 12.47, 15.95, 21.51, 22.21, 22.21, 18.38, 17.34,
             16.99, 21.86, 23.77, 23.6, 20.47, 21.86, 18.73, 24.29, 18.73, 9.0,
             16.99, 15.6, 15.6, 15.43, 14.56, 20.12, 21.86, 24.81, 26.38, 28.46,
             30.9, 32.11, 30.9, 26.72, 20.81, 26.72, 22.55, 23.25, 19.42, 18.03,
             24.99, 31.94, 34.37, 32.98, 34.89, 31.59, 31.59, 28.46, 25.68, 32.63,
             39.24, 34.37, 27.42, 18.73, 16.99, 8.3, 13.51, 18.73, 21.86, 25.68,
             23.94, 31.59, 37.5, 33.33, 29.16, 27.77, 31.07, 21.86, 19.77, 16.99,
             14.9, 19.08, 22.21, 24.64, 26.03, 27.42, 23.25, 29.5, 29.85, 29.68,
             27.42, 21.16, 12.47, 18.73, 23.25, 17.69, 11.43, 16.99, 11.43, 5.87,
             7.09, 5.52, 3.78, 5.52, 6.22, 4.48, 6.22, 20.81, 21.51, 27.42,
             27.94, 26.72, 19.08, 12.82, 14.56, 9.34, 15.25, 9.0, 8.65, 4.48,
             6.22, 5.17, 5.52, 4.48, 4.13, 4.48, 3.96, 5.17, 6.22, 7.43,
             7.43, 7.95, 7.26, 7.95, 5.52, 4.83, 4.48, 4.65, 5.17, 6.22,
             7.26, 6.22, 5.52, 4.48, 3.96, 4.48, 5.17, 7.26, 6.56, 8.3,
             23.25, 10.04, 6.56]
b3_pred_lat = [-8.86, -8.78, -8.58, -8.46, -8.5, -8.45, -8.33, -8.2, -8.09, -7.92,
               -7.76, -7.6, -7.43, -7.27, -7.11, -6.94, -6.86, -6.7, -6.54, -6.42,
               -6.29, -6.21, -6.13, -5.96, -5.8, -5.72, -5.56, -5.39, -5.31, -5.23,
               -5.15, -5.07, -4.98, -4.9, -4.74, -4.62, -4.53, -4.41, -4.25, -4.12,
               -4.04, -3.92, -3.81, -3.68, -3.55, -3.43, -3.27, -3.19, -3.1, -3.06,
               -3.02, -3.02, -2.94, -2.78, -2.61, -2.45, -2.29, -2.12, -2.01, -2.01,
               -1.91, -1.8, -1.72, -1.55, -1.47, -1.09, -1.06, -0.98, -0.9, -0.82,
               -0.74, -0.6, -0.54, -0.49, -0.33, -0.2, -0.08, -0.05, 0.0, 0.05,
               0.08, 0.25, 0.41, 0.49, 0.57, 0.74, 0.9, 0.98, 1.06, 1.23,
               1.39, 1.47, 1.55, 1.63, 1.75, 1.88, 1.96, 2.73, 2.78, 2.78,
               2.89, 2.99, 3.51, 3.55, 3.64, 3.76, 3.84, 3.92, 4.0, 4.13,
               4.26, 4.36, 4.49, 4.62, 4.74, 4.9, 5.02, 5.11, 5.18, 5.28,
               5.39, 5.07, 5.96, 5.99, 6.05, 6.13, 6.1, 6.1, 6.21, 6.01,
               6.37, 6.54, 6.67, 6.78, 6.86, 6.94, 7.03, 7.11, 7.19, 7.32,
               7.42, 7.52, 7.65, 7.76, 7.92, 8.0, 8.14, 8.33, 8.46, 8.63,
               8.74, 8.9, 9.11, 9.31, 9.48, 9.64, 9.77, 9.84, 9.89, 9.97,
               10.05, 10.1, 10.16, 10.26, 10.38, 10.43, 10.49, 10.54, 10.59, 10.7,
               10.86, 11.03, 11.19, 12.5, 12.66, 12.88, 13.07, 13.32, 13.56, 13.89,
               14.14, 14.38, 14.71, 14.95, 15.11, 15.33, 15.44, 15.69, 15.93, 16.18,
               16.42, 16.67, 16.8, 17.16, 17.48, 17.81, 18.14, 18.46, 18.71, 18.95,
               19.2, 19.44, 19.69, 19.93, 20.26, 20.51, 20.67, 20.83, 20.92, 21.05,
               21.16, 21.24, 21.32, 21.32, 21.27, 21.32, 21.37]
b3_pred = [8.02, 7.09, 6.91, 6.91, 10.39, 10.74, 11.6, 13.86, 14.56, 13.52,
           12.82, 13.17, 13.86, 14.56, 14.91, 13.69, 15.95, 16.82, 17.51, 19.08,
           19.25, 17.51, 16.3, 15.95, 15.77, 12.82, 13.17, 13.17, 14.21, 15.95,
           17.34, 20.47, 20.64, 20.81, 20.81, 19.77, 18.73, 17.34, 17.34, 18.38,
           21.51, 23.25, 22.55, 22.21, 20.47, 21.16, 22.21, 17.69, 17.34, 14.21,
           13.52, 11.43, 16.99, 16.3, 15.95, 15.77, 15.6, 15.6, 15.6, 16.82,
           18.56, 18.73, 23.6, 23.77, 24.12, 23.42, 28.11, 29.85, 29.5, 29.33,
           27.42, 27.42, 25.51, 26.72, 26.38, 26.03, 26.03, 24.29, 22.55, 21.16,
           20.47, 21.16, 26.03, 28.46, 30.2, 32.28, 32.98, 32.81, 31.24, 30.9,
           30.55, 29.85, 27.07, 27.07, 27.77, 29.85, 30.9, 27.0, 14.56, 13.0,
           12.47, 10.39, 21.16, 24.29, 25.16, 26.72, 27.77, 31.42, 31.59, 30.9,
           32.11, 30.55, 28.46, 28.11, 26.72, 23.25, 21.86, 19.77, 19.08, 17.69,
           16.3, 27.59, 19.77, 18.38, 22.55, 23.6, 26.03, 28.11, 27.07, 17.34,
           27.07, 28.46, 27.94, 27.07, 25.33, 20.47, 18.38, 16.99, 19.08, 20.12,
           19.42, 19.08, 17.69, 16.99, 18.73, 14.91, 13.52, 8.3, 8.3, 6.39,
           5.87, 5.17, 5.17, 5.52, 5.17, 6.56, 11.43, 13.17, 18.03, 18.73,
           22.55, 23.6, 25.33, 26.03, 24.29, 23.6, 21.51, 19.6, 8.65, 6.91,
           7.09, 7.43, 7.61, 5.52, 5.87, 6.56, 5.52, 5.7, 5.35, 5.52,
           4.48, 5.0, 4.83, 6.22, 5.52, 6.22, 6.91, 7.09, 7.43, 6.22,
           7.26, 7.09, 5.17, 4.83, 4.65, 4.83, 4.65, 5.17, 5.7, 6.04,
           5.87, 5.52, 5.0, 4.13, 3.96, 4.48, 5.0, 7.61, 9.34, 10.04,
           8.65, 10.74, 12.82, 14.04, 20.47, 21.16, 11.08]

titles_a = ["A1", "A2", "A3"]
titles_b = ["B1", "B2", "B3"]
label_pred = "Predicted Biomass (pgC per L)"
label_actual = "Actual Biomass (pgC per L)"
label_bio = "Biomass (pgC per L)"
label_lat = "Latitude (\u00ba)"

# ---------------- figure ----------------
W, H = 1250, 1357
plt.rcParams['font.family'] = ['DejaVu Sans']
fig = plt.figure(figsize=(W / 100, H / 100), dpi=100)
fig.patch.set_facecolor('white')
fig.add_artist(Rectangle((7 / W, 4 / H), (1246 - 7) / W, (1350 - 4) / H,
                         transform=fig.transFigure, facecolor='#f0f0f0',
                         edgecolor='none', zorder=-10))

BG = '#f0f0f0'
GRID = '#d9d9d9'
TICK_FS = 12.5
LABEL_FS = 15.3
TITLE_FS = 17


def px_axes(l, t, r, b):
    ax = fig.add_axes([l / W, 1 - b / H, (r - l) / W, (b - t) / H])
    ax.set_facecolor(BG)
    ax.set_axisbelow(True)
    ax.grid(True, color=GRID, linewidth=1.1)
    for s in ax.spines.values():
        s.set_visible(False)
    ax.tick_params(length=0, labelsize=TICK_FS, pad=5, labelcolor='#222222')
    return ax


def scatter_panel(ax, actual, pred, fit, maep, lim, xt, yt, title):
    ax.scatter(actual, pred, s=50, color='blue', zorder=2)
    xs = np.array([min(actual), max(actual)])
    ax.plot(xs, fit[0] * xs + fit[1], color='yellow', lw=5,
            solid_capstyle='round', zorder=3)
    ax.set_xlim(0, lim)
    ax.set_ylim(0, lim)
    ax.set_xticks(xt)
    ax.set_yticks(yt)
    ax.text(0.05, 0.92, maep, transform=ax.transAxes, fontsize=11,
            va='center', ha='left', color='#222222')
    ax.set_title(title, fontsize=TITLE_FS, pad=7)


def line_panel(ax, lat, act, plat, pval, xlim, ylim, yt, title):
    ax.plot(lat, act, color='blue', lw=3, label='Actual', zorder=2)
    ax.scatter(plat, pval, s=28, color='red', alpha=0.5, label='Prediction',
               zorder=3, linewidths=0)
    ax.set_xlim(*xlim)
    ax.set_ylim(*ylim)
    ax.set_xticks([-10, -5, 0, 5, 10, 15, 20])
    ax.set_yticks(yt)
    ax.set_title(title, fontsize=TITLE_FS, pad=7)
    ax.set_ylabel(label_bio, fontsize=LABEL_FS)
    leg = ax.legend(loc='upper right', fontsize=TICK_FS, frameon=True,
                    fancybox=True, borderaxespad=0.45)
    leg.get_frame().set_facecolor('#f0f0f0')
    leg.get_frame().set_edgecolor('#dcdcdc')
    leg.get_frame().set_alpha(1.0)


axA1 = px_axes(60.5, 45, 433, 418.8)
scatter_panel(axA1, a1_actual, a1_pred, a1_fit, a1_maep, 21.6,
              [0, 5, 10, 15, 20], np.arange(0, 20.01, 2.5), titles_a[0])
axA2 = px_axes(60, 489.3, 433, 862.7)
scatter_panel(axA2, a2_actual, a2_pred, a2_fit, a2_maep, 6.68,
              [0, 2, 4, 6], [0, 1, 2, 3, 4, 5, 6], titles_a[1])
axA2.set_ylabel(label_pred, fontsize=LABEL_FS)
axA3 = px_axes(60, 932.7, 433, 1305)
scatter_panel(axA3, a3_actual, a3_pred, a3_fit, a3_maep, 44.0,
              [0, 10, 20, 30, 40], np.arange(0, 40.01, 5), titles_a[2])
axA3.set_xlabel(label_actual, fontsize=LABEL_FS)

axB1 = px_axes(570, 45, 1244, 418)
line_panel(axB1, b1_lat, b1_actual, b1_pred_lat, b1_pred,
           (-10.29, 22.75), (-0.2, 20.05), np.arange(0, 20.01, 2.5), titles_b[0])
axB2 = px_axes(570, 489.3, 1244, 855)
line_panel(axB2, b2_lat, b2_actual, b2_pred_lat, b2_pred,
           (-10.25, 21.47), (-0.13, 5.97), [0, 1, 2, 3, 4, 5], titles_b[1])
axB3 = px_axes(570, 932.7, 1244, 1303)
line_panel(axB3, b3_lat, b3_actual, b3_pred_lat, b3_pred,
           (-10.29, 22.75), (2.22, 40.83), np.arange(5, 40.01, 5), titles_b[2])
axB3.set_xlabel(label_lat, fontsize=LABEL_FS)

fig.savefig("out.png", dpi=100, facecolor=fig.get_facecolor())
